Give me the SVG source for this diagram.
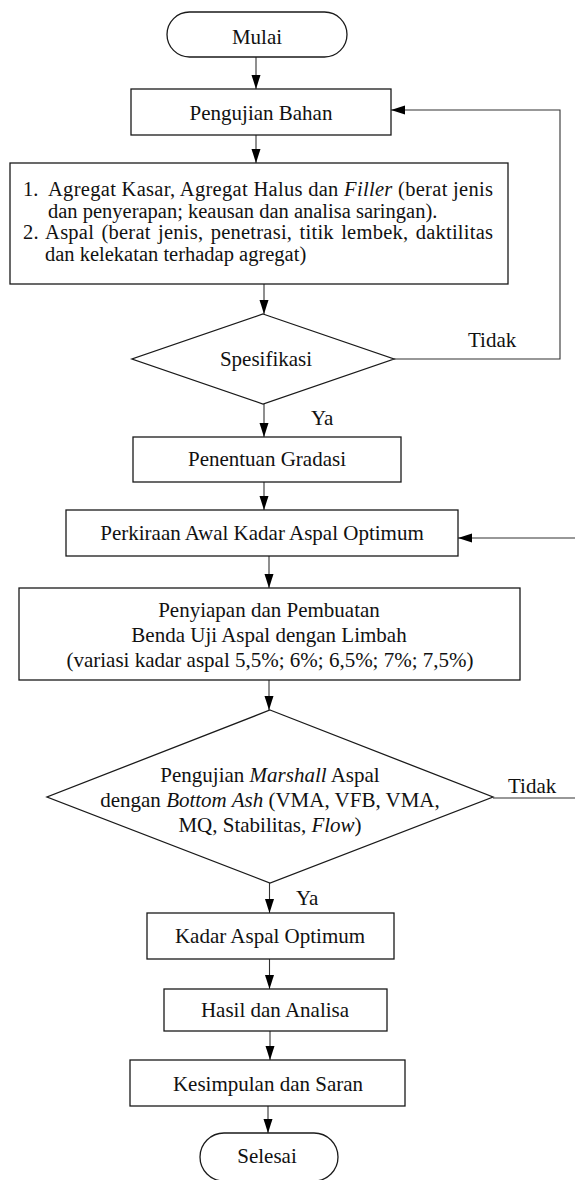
<svg xmlns="http://www.w3.org/2000/svg" width="575" height="1180" viewBox="0 0 575 1180">
<style>
  .shape { fill: #ffffff; stroke: #1a1a1a; stroke-width: 1.3; }
  .conn { fill: none; stroke: #333333; stroke-width: 1.1; }
  text { font-family: "Liberation Serif", "Times New Roman", serif; font-size: 21px; fill: #111111; }
  .c { text-anchor: middle; }
  .i { font-style: italic; }
  .list { font-size: 20.5px; }
</style>
<defs>
  <marker id="arrow" markerUnits="userSpaceOnUse" markerWidth="14" markerHeight="10" refX="14" refY="4.5" orient="auto">
    <path d="M0,0 L14,4.5 L0,9 Z" fill="#000000"/>
  </marker>
</defs>

<rect width="575" height="1180" fill="#ffffff"/>

<g id="connectors">
  <path class="conn" d="M256,57 V89" marker-end="url(#arrow)"/>
  <path class="conn" d="M256,135 V163" marker-end="url(#arrow)"/>
  <path class="conn" d="M264,284 V314" marker-end="url(#arrow)"/>
  <path class="conn" d="M394,359 H560 V110 H391" marker-end="url(#arrow)"/>
  <path class="conn" d="M264,404 V437" marker-end="url(#arrow)"/>
  <path class="conn" d="M264,482 V510" marker-end="url(#arrow)"/>
  <path class="conn" d="M575,538 H458" marker-end="url(#arrow)"/>
  <path class="conn" d="M269,556 V588" marker-end="url(#arrow)"/>
  <path class="conn" d="M269,680 V710" marker-end="url(#arrow)"/>
  <path class="conn" d="M493,798 H575"/>
  <path class="conn" d="M269.5,883 V913" marker-end="url(#arrow)"/>
  <path class="conn" d="M269.5,959 V989" marker-end="url(#arrow)"/>
  <path class="conn" d="M270,1031 V1060" marker-end="url(#arrow)"/>
  <path class="conn" d="M268,1106 V1133" marker-end="url(#arrow)"/>
  <text x="468" y="347">Tidak</text>
  <text x="311" y="425">Ya</text>
  <text x="508" y="793">Tidak</text>
  <text x="296" y="905">Ya</text>
</g>

<g id="mulai">
  <rect class="shape" x="167" y="12" width="180" height="45" rx="22.5" ry="22.5"/>
  <text class="c" x="257" y="44">Mulai</text>
</g>

<g id="pengujian-bahan">
  <rect class="shape" x="131" y="89" width="260" height="46"/>
  <text class="c" x="261" y="120">Pengujian Bahan</text>
</g>

<g id="daftar-pengujian">
  <rect class="shape" x="10" y="163" width="498" height="121"/>
  <text class="list" x="23" y="196">1.</text>
  <text class="list" x="48" y="196" textLength="445" lengthAdjust="spacing">Agregat Kasar, Agregat Halus dan <tspan class="i">Filler</tspan> (berat jenis</text>
  <text class="list" x="48" y="217.5">dan penyerapan; keausan dan analisa saringan).</text>
  <text class="list" x="23" y="239" textLength="470" lengthAdjust="spacing" word-spacing="2">2. Aspal (berat jenis, penetrasi, titik lembek, daktilitas</text>
  <text class="list" x="45" y="260.5">dan kelekatan terhadap agregat)</text>
</g>

<g id="spesifikasi">
  <polygon class="shape" points="263,314 394,359 263,404 132,359"/>
  <text class="c" x="266" y="366">Spesifikasi</text>
</g>

<g id="penentuan-gradasi">
  <rect class="shape" x="133" y="437" width="268" height="45"/>
  <text class="c" x="267" y="466">Penentuan Gradasi</text>
</g>

<g id="perkiraan-awal">
  <rect class="shape" x="66" y="510" width="392" height="46"/>
  <text class="c" x="262" y="540">Perkiraan Awal Kadar Aspal Optimum</text>
</g>

<g id="penyiapan">
  <rect class="shape" x="19" y="588" width="501" height="92"/>
  <text class="c" x="269" y="617">Penyiapan dan Pembuatan</text>
  <text class="c" x="269" y="642">Benda Uji Aspal dengan Limbah</text>
  <text class="c" x="270" y="667">(variasi kadar aspal 5,5%; 6%; 6,5%; 7%; 7,5%)</text>
</g>

<g id="pengujian-marshall">
  <polygon class="shape" points="270,710 493,797 270,883 47,797"/>
  <text class="c" x="270" y="782">Pengujian <tspan class="i">Marshall</tspan> Aspal</text>
  <text class="c" x="270" y="807">dengan <tspan class="i">Bottom Ash</tspan> (VMA, VFB, VMA,</text>
  <text class="c" x="270" y="832">MQ, Stabilitas, <tspan class="i">Flow</tspan>)</text>
</g>

<g id="kadar-aspal-optimum">
  <rect class="shape" x="147" y="913" width="247" height="46"/>
  <text class="c" x="270" y="943">Kadar Aspal Optimum</text>
</g>

<g id="hasil-analisa">
  <rect class="shape" x="164" y="989" width="223" height="42"/>
  <text class="c" x="275" y="1017">Hasil dan Analisa</text>
</g>

<g id="kesimpulan-saran">
  <rect class="shape" x="130" y="1060" width="275" height="46"/>
  <text class="c" x="268" y="1091">Kesimpulan dan Saran</text>
</g>

<g id="selesai">
  <rect class="shape" x="200" y="1133" width="138" height="48" rx="24" ry="24"/>
  <text class="c" x="267" y="1163">Selesai</text>
</g>
</svg>
